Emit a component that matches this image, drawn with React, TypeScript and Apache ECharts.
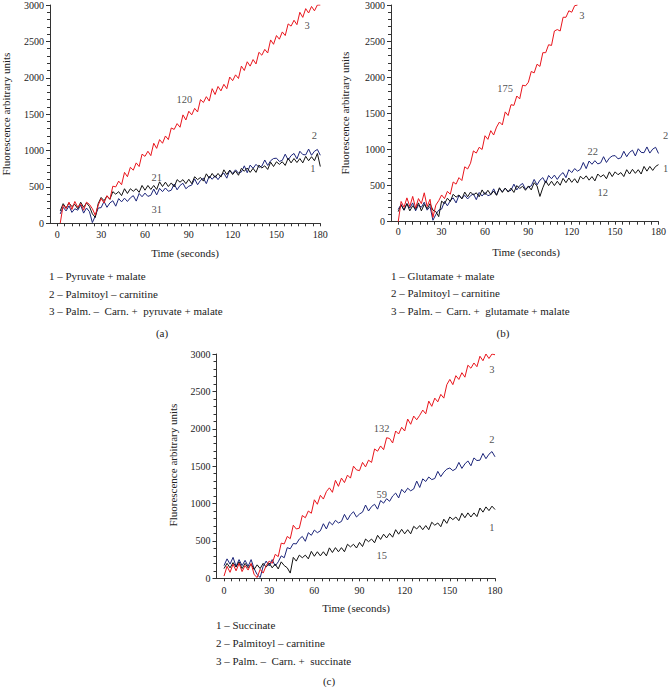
import React, { useEffect, useRef } from "react";
import * as echarts from "echarts";

// ---------- shared axes ----------
const TIMES = [
  0, 2, 4, 6, 8, 10, 12, 14, 16, 18, 20, 22, 24, 26, 28,
  30, 32, 34, 36, 38, 40, 42, 44, 46, 48,
  50, 52, 54, 56, 58, 60, 62, 64, 66, 68,
  70, 72, 74, 76, 78, 80, 82, 84, 86, 88,
  90, 92, 94, 96, 98, 100, 102, 104, 106, 108,
  110, 112, 114, 116, 118, 120, 122, 124, 126, 128,
  130, 132, 134, 136, 138, 140, 142, 144, 146, 148,
  150, 152, 154, 156, 158, 160, 162, 164, 166, 168,
  170, 172, 174, 176, 178, 180,
];
const X_TICKS = [
  0, 5, 10, 15, 20, 25, 30, 35, 40, 45, 50, 55, 60, 65, 70, 75, 80, 85, 90,
  95, 100, 105, 110, 115, 120, 125, 130, 135, 140, 145, 150, 155, 160, 165,
  170, 175, 180,
];
const X_LABELS = [0, 30, 60, 90, 120, 150, 180];

// ---------- panel (a) ----------
const A_PYRUVATE_MALATE = [
  null, 170, 270, 210, 280, 230, 260, 200, 290, 220, 280, 230, 130, 80, 270,
  355, 310, 375, 330, 435, 400, 435, 380, 475, 410,
  475, 440, 475, 425, 520, 455, 520, 465, 520, 465,
  570, 505, 565, 505, 555, 500, 600, 565, 600, 545,
  605, 545, 640, 600, 630, 580, 680, 620, 685, 630,
  685, 635, 735, 670, 730, 670, 720, 660, 755, 715,
  760, 700, 755, 700, 800, 760, 790, 740, 840, 780,
  845, 810, 845, 795, 895, 830, 890, 835, 890, 830,
  920, 860, 915, 860, 960, 780,
];
const A_PALMITOYL = [
  null, 130, 220, 170, 240, 150, 200, 180, 250, 140, 210, 160, 10, 100, 210,
  215, 300, 220, 280, 310, 235, 340, 295, 345, 300,
  350, 380, 305, 410, 365, 415, 370, 385, 470, 390,
  480, 435, 485, 440, 455, 540, 460, 520, 550, 475,
  510, 525, 610, 530, 590, 620, 545, 650, 605, 655,
  600, 660, 690, 620, 730, 685, 735, 690, 705, 790,
  695, 800, 755, 810, 770, 785, 870, 795, 860, 890,
  895, 850, 865, 950, 870, 930, 960, 885, 990, 945,
  940, 1020, 935, 990, 1015, 935,
];
const A_COMBINED = [
  null, 0, 250, 200, 290, 190, 300, 220, 270, 180, 290, 260, 200, 110, 250,
  340, 280, 380, 330, 510, 500, 580, 530, 700, 640,
  770, 730, 830, 780, 950, 920, 990, 930, 1100, 1030,
  1150, 1100, 1200, 1150, 1310, 1290, 1370, 1320, 1490, 1420,
  1540, 1490, 1580, 1530, 1700, 1660, 1740, 1680, 1850, 1770,
  1880, 1820, 1910, 1850, 2010, 1960, 2040, 1990, 2160, 2100,
  2220, 2160, 2250, 2190, 2350, 2310, 2390, 2340, 2520, 2460,
  2580, 2530, 2630, 2580, 2740, 2710, 2790, 2730, 2900, 2830,
  2950, 2890, 2980, 2920, 3000, 3000,
];
const A_NOTES: [string, number, number][] = [
  ["3", 171, 2720], ["120", 87, 1700], ["2", 176, 1200],
  ["1", 175, 753], ["21", 68, 626], ["31", 68, 196],
];
const A_LEGEND = [
  "1 – Pyruvate + malate",
  "2 – Palmitoyl – carnitine",
  "3 – Palm. –  Carn. +  pyruvate + malate",
];

// ---------- panel (b) ----------
const B_GLUTAMATE_MALATE = [
  140, 230, 160, 250, 150, 220, 170, 260, 150, 240, 180, 250, 160, 140, 70,
  285, 250, 325, 280, 380, 340, 370, 315, 410, 345,
  410, 370, 400, 345, 440, 375, 435, 375, 425, 365,
  470, 405, 465, 410, 465, 405, 500, 460, 490, 435,
  495, 440, 540, 495, 350, 470, 565, 500, 560, 500,
  560, 505, 600, 540, 605, 545, 595, 535, 630, 590,
  635, 575, 625, 565, 660, 620, 650, 595, 690, 625,
  690, 650, 680, 625, 720, 660, 725, 670, 720, 660,
  765, 700, 765, 710, 765, 790,
];
const B_PALMITOYL = [
  170, 240, 160, 250, 190, 260, 150, 230, 200, 270, 160, 210, 20, 100, 160,
  175, 280, 220, 290, 330, 260, 365, 320, 365, 315,
  360, 385, 305, 405, 355, 405, 360, 375, 455, 370,
  460, 415, 465, 420, 435, 520, 440, 500, 530, 450,
  480, 495, 585, 510, 575, 610, 535, 640, 595, 645,
  585, 645, 680, 610, 720, 680, 735, 700, 725, 820,
  735, 840, 795, 845, 800, 815, 900, 820, 880, 910,
  915, 870, 885, 975, 900, 960, 990, 910, 1010, 960,
  955, 1035, 950, 1005, 1030, 945,
];
const B_COMBINED = [
  0, 280, 200, 330, 210, 350, 190, 320, 250, 400, 210, 310, 60, 230, 290,
  370, 320, 420, 380, 550, 520, 610, 570, 760, 730,
  810, 980, 950, 1030, 1000, 1190, 1140, 1260, 1200, 1310,
  1380, 1340, 1520, 1470, 1620, 1610, 1740, 1700, 1890, 1880,
  1930, 2080, 2060, 2180, 2150, 2340, 2340, 2450, 2440, 2640,
  2660, 2640, 2830, 2830, 2920, 2900, 2990, 3000, null, null,
  null, null, null, null, null, null, null, null, null, null,
  null, null, null, null, null, null, null, null, null, null,
  null, null, null, null, null, null,
];
const B_NOTES: [string, number, number][] = [
  ["3", 127, 2853], ["175", 74, 1841], ["22", 134.6, 966],
  ["2", 185, 1187], ["1", 185, 736], ["12", 141.5, 405],
];
const B_LEGEND = [
  "1 – Glutamate + malate",
  "2 – Palmitoyl – carnitine",
  "3 – Palm. –  Carn. +  glutamate + malate",
];

// ---------- panel (c) ----------
const C_SUCCINATE = [
  130, 200, 140, 210, 150, 220, 130, 200, 140, 190, 120, 180, 130, 200, 150,
  205, 140, 190, 125, 220, 170, 140, 70, 280, 230,
  310, 275, 310, 260, 360, 295, 355, 300, 355, 300,
  407, 345, 410, 355, 410, 355, 455, 420, 455, 405,
  480, 425, 525, 490, 525, 475, 575, 520, 590, 540,
  600, 550, 650, 590, 655, 595, 650, 595, 695, 660,
  705, 650, 705, 650, 750, 710, 740, 690, 790, 735,
  820, 785, 820, 770, 870, 810, 875, 820, 875, 825,
  940, 885, 955, 905, 965, 920,
];
const C_PALMITOYL = [
  170, 260, 190, 280, 160, 250, 170, 240, 160, 250, 130, 50, 10, 160, 230,
  165, 250, 165, 220, 300, 275, 410, 395, 465, 460,
  525, 560, 495, 610, 575, 645, 610, 635, 730, 660,
  755, 715, 775, 740, 760, 855, 780, 850, 890, 820,
  860, 885, 980, 900, 960, 990, 925, 1040, 1005, 1065,
  1030, 1100, 1140, 1075, 1190, 1145, 1205, 1170, 1195, 1300,
  1215, 1330, 1295, 1355, 1320, 1335, 1430, 1360, 1420, 1460,
  1475, 1440, 1465, 1550, 1470, 1530, 1570, 1505, 1610, 1575,
  1580, 1670, 1600, 1660, 1695, 1625,
];
const C_COMBINED = [
  30, 160, 80, 190, 100, 200, 90, 170, 110, 200, 50, 10, 120, 70, 170,
  230, 200, 320, 290, 470, 460, 560, 530, 710, 660,
  670, 840, 810, 900, 870, 1050, 990, 1110, 1060, 1160,
  1210, 1150, 1310, 1230, 1340, 1280, 1380, 1340, 1500, 1450,
  1440, 1550, 1490, 1580, 1550, 1730, 1700, 1770, 1720, 1880,
  1870, 1810, 1970, 1930, 2020, 1970, 2130, 2060, 2170, 2120,
  2180, 2250, 2200, 2370, 2300, 2410, 2360, 2460, 2410, 2590,
  2660, 2590, 2710, 2660, 2750, 2690, 2850, 2810, 2880, 2830,
  2970, 2910, 3000, 2940, 3000, 2990,
];
const C_NOTES: [string, number, number][] = [
  ["3", 178, 2795], ["132", 104.7, 2006], ["2", 178, 1850],
  ["59", 104.7, 1115], ["1", 178, 682], ["15", 104.7, 303],
];
const C_LEGEND = [
  "1 – Succinate",
  "2 – Palmitoyl – carnitine",
  "3 – Palm. –  Carn. +  succinate",
];

const CAPTIONS = ["(a)", "(b)", "(c)"];
const X_TITLE = "Time (seconds)";
const Y_TITLE = "Fluorescence arbitrary units";

// ---------- styling / layout ----------
const FONT = "Liberation Serif";
const TEXT = "#222";
const AXIS = "#333";
const C_BLACK = "#111111";
const C_BLUE = "#1b2479";
const C_RED = "#e8151c";

const LAYOUT = [
  { left: 50, top: 4.3, width: 270.3, height: 219, xMargin: 6, yTitle: [6, 114], xTitle: [185, 253], legendX: 49, legendY: [276, 294, 311], caption: [162, 333] },
  { left: 391, top: 4.3, width: 269, height: 217.4, xMargin: 5, yTitle: [345, 113], xTitle: [526, 252], legendX: 391, legendY: [276, 293, 311], caption: [503, 333] },
  { left: 216.5, top: 354, width: 278.5, height: 224.3, xMargin: 7, yTitle: [173, 465], xTitle: [356, 608], legendX: 216, legendY: [625, 643, 661], caption: [329, 681] },
];

const PANELS = [
  { traces: [A_PALMITOYL, A_PYRUVATE_MALATE, A_COMBINED], notes: A_NOTES, legend: A_LEGEND },
  { traces: [B_PALMITOYL, B_GLUTAMATE_MALATE, B_COMBINED], notes: B_NOTES, legend: B_LEGEND },
  { traces: [C_PALMITOYL, C_SUCCINATE, C_COMBINED], notes: C_NOTES, legend: C_LEGEND },
];
const TRACE_COLORS = [C_BLUE, C_BLACK, C_RED];

function textStyle(text: string, align: string) {
  return { text, fontSize: 11, fontFamily: FONT, fill: TEXT, align, verticalAlign: "middle" };
}

function buildOption() {
  const grid: any[] = [];
  const xAxis: any[] = [];
  const yAxis: any[] = [];
  const series: any[] = [];
  const graphic: any[] = [];

  PANELS.forEach((p, gi) => {
    const L = LAYOUT[gi];
    grid.push({ left: L.left, top: L.top, width: L.width, height: L.height, containLabel: false });
    xAxis.push({
      type: "value",
      gridIndex: gi,
      min: -5,
      max: 180,
      axisLine: { show: true, onZero: false, lineStyle: { color: AXIS, width: 1 } },
      axisTick: { show: true, length: 3, customValues: X_TICKS, lineStyle: { color: AXIS } },
      axisLabel: { customValues: X_LABELS, fontSize: 10, fontFamily: FONT, color: TEXT, margin: L.xMargin },
      splitLine: { show: false },
    });
    yAxis.push({
      type: "value",
      gridIndex: gi,
      min: 0,
      max: 3000,
      interval: 500,
      axisLine: { show: true, onZero: false, lineStyle: { color: AXIS, width: 1 } },
      axisTick: { show: true, length: 4, lineStyle: { color: AXIS } },
      minorTick: { show: true, splitNumber: 5, length: 3, lineStyle: { color: AXIS } },
      axisLabel: { fontSize: 10, fontFamily: FONT, color: TEXT, margin: 6, formatter: (v: number) => String(v) },
      splitLine: { show: false },
    });
    p.traces.forEach((vals, k) => {
      const data = TIMES.map((t, i) => [t, vals[i]]).filter((d) => d[1] !== null && d[1] !== undefined);
      series.push({
        type: "line",
        xAxisIndex: gi,
        yAxisIndex: gi,
        data,
        symbol: "none",
        showSymbol: false,
        clip: true,
        silent: true,
        lineStyle: { color: TRACE_COLORS[k], width: 1 },
        itemStyle: { color: TRACE_COLORS[k] },
        z: 2 + k,
      });
    });
    series.push({
      type: "scatter",
      xAxisIndex: gi,
      yAxisIndex: gi,
      clip: false,
      silent: true,
      symbolSize: 1,
      itemStyle: { color: "rgba(0,0,0,0)" },
      data: p.notes.map((n) => ({ name: n[0], value: [n[1], n[2]] })),
      label: { show: true, position: "inside", formatter: "{b}", fontSize: 10.5, fontFamily: FONT, color: TEXT },
      z: 10,
    });

    graphic.push({ type: "text", x: L.yTitle[0], y: L.yTitle[1], rotation: Math.PI / 2, style: textStyle(Y_TITLE, "center") });
    graphic.push({ type: "text", x: L.xTitle[0], y: L.xTitle[1], style: textStyle(X_TITLE, "center") });
    p.legend.forEach((s, k) => {
      graphic.push({ type: "text", x: L.legendX, y: L.legendY[k], style: textStyle(s, "left") });
    });
    graphic.push({ type: "text", x: L.caption[0], y: L.caption[1], style: textStyle(CAPTIONS[gi], "center") });
  });

  return {
    animation: false,
    backgroundColor: "#ffffff",
    textStyle: { fontFamily: FONT },
    grid,
    xAxis,
    yAxis,
    series,
    graphic,
  };
}

export default function App() {
  const ref = useRef<HTMLDivElement>(null);
  useEffect(() => {
    if (!ref.current) return;
    const chart = echarts.init(ref.current, null, { renderer: "svg" });
    chart.setOption(buildOption());
    return () => chart.dispose();
  }, []);
  return (
    <div
      ref={ref}
      style={{ position: "fixed", left: 0, top: 0, width: 669, height: 687, background: "#fff" }}
    />
  );
}
